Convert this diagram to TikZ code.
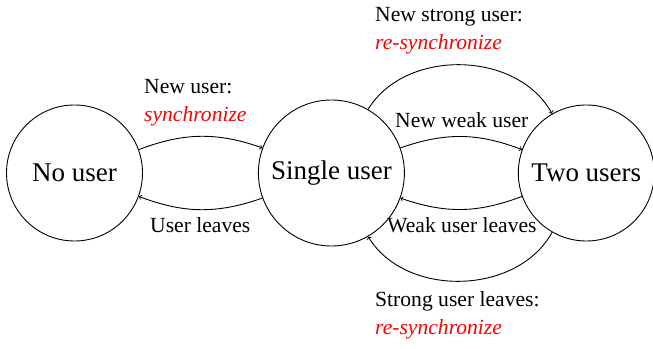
\documentclass[tikz,border=0pt]{standalone}
\usepackage{fontspec}
\setmainfont{Liberation Serif}
\usetikzlibrary{positioning}
\tikzstyle{arrow} = [line width=0.9pt,->]

\begin{document}
\begin{tikzpicture}[x=1pt,y=1pt,
statenode/.style={circle, draw=black, line width=0.9pt, minimum size=136pt, inner sep=0pt, font=\fontsize{27}{30}\selectfont},
textnode/.style={anchor=base west, inner sep=0pt, align=left, font=\fontsize{21.6}{28.5}\selectfont},
]
\useasboundingbox (0,0) rectangle (653,348);
%Nodes
\node[statenode]                     (nouser)                        at (74.5,175) {No user};
\node[statenode, minimum size=146pt] (single) [right=115pt of nouser]            {Single user};
\node[statenode]                     (two)    [right=113pt of single]            {Two users};

%Labels
\node[textnode] (newuser)      at (144,226) {New user:\\\textcolor{red}{\textit{synchronize}}};
\node[textnode] (userleaves)   at (150,115) {User leaves};
\node[textnode] (newstrong)    at (375,298) {New strong user:\\\textcolor{red}{\textit{re-synchronize}}};
\node[textnode] (newweak)      at (395,220) {New weak user};
\node[textnode] (weakleaves)   at (387,115) {Weak user leaves};
\node[textnode] (strongleaves) at (375,13)  {Strong user leaves:\\\textcolor{red}{\textit{re-synchronize}}};

%Lines
\draw[arrow] (nouser) to[bend left=20] (single);
\draw[arrow] (single) to[bend left=20] (nouser);
\draw[arrow] (single) to[bend left=20] (two);
\draw[arrow] (two) to[bend left=20] (single);
\draw[arrow] (single) to[bend left=60] (two);
\draw[arrow] (two) to[bend left=60] (single);

\end{tikzpicture}
\end{document}
